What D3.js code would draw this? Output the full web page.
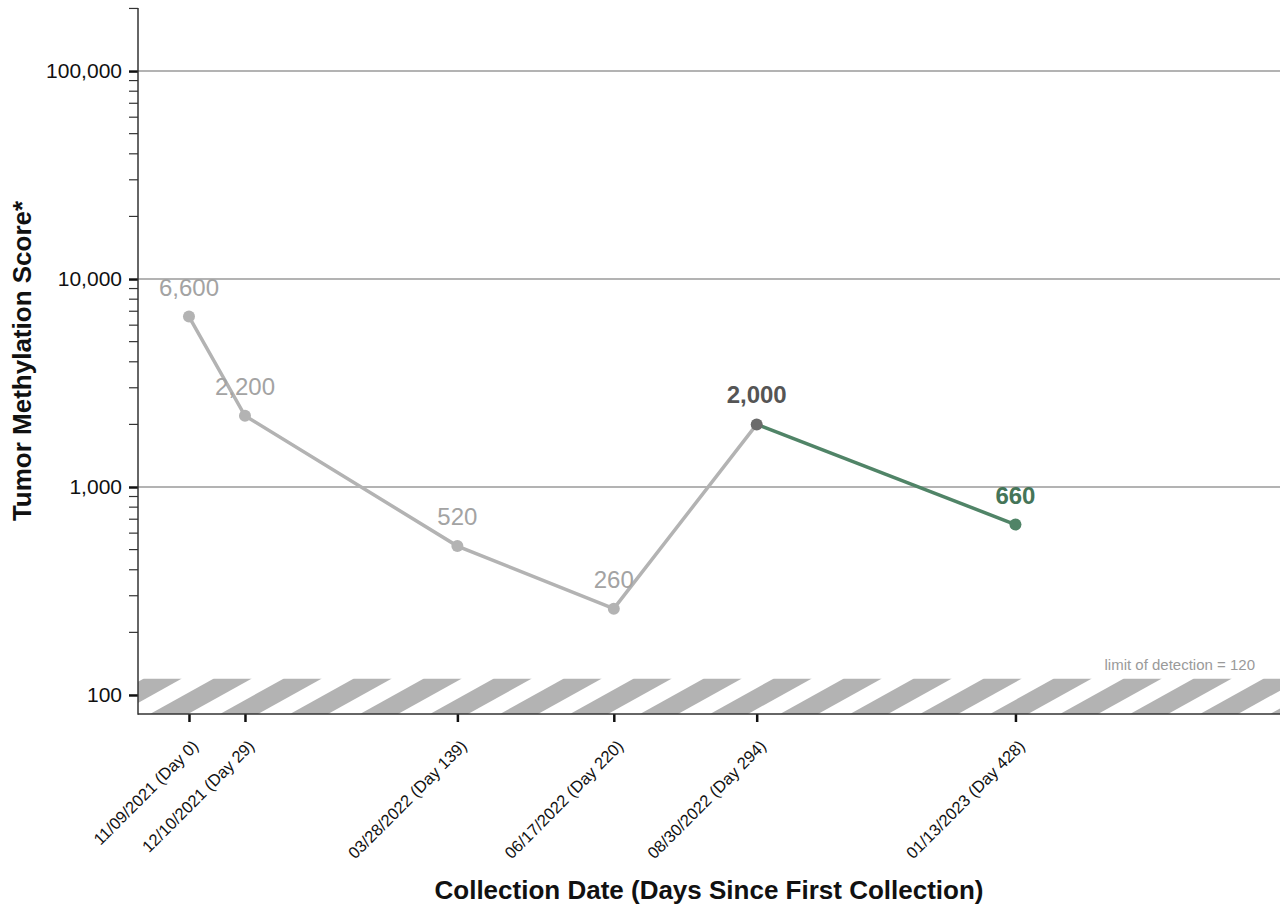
<!DOCTYPE html>
<html>
<head>
<meta charset="utf-8">
<script src="https://cdn.jsdelivr.net/npm/d3@7"></script>
<style>
  body { margin: 0; background: #fff; }
  svg { display: block; font-family: "Liberation Sans", Arial, Helvetica, sans-serif; }
</style>
</head>
<body>
<svg id="chart" width="1280" height="907"></svg>
<script>
// data
var days = [0, 29, 139, 220, 294, 428];
var dates = ["11/09/2021", "12/10/2021", "03/28/2022", "06/17/2022", "08/30/2022", "01/13/2023"];
var scores = [6600, 2200, 520, 260, 2000, 660];
var score_labels = ["6,600", "2,200", "520", "260", "2,000", "660"];
var y_ticks = [100, 1000, 10000, 100000];
var limit_of_detection = 120;

var width = 1280, height = 907;
var margin = { top: 8, right: 0, bottom: 193, left: 138 };
var fontFam = "Liberation Sans, Arial, sans-serif";

var svg = d3.select("#chart");

var x = d3.scaleLinear()
    .domain([-26.4, 565])
    .range([margin.left, width - margin.right]);

var y = d3.scaleLog()
    .domain([81, 201000])
    .range([height - margin.bottom, margin.top]);

var plotLeft = margin.left, plotRight = width - margin.right;
var plotTop = margin.top, plotBottom = height - margin.bottom;

// grid lines
svg.append("g").selectAll("line").data(y_ticks).enter().append("line")
    .attr("x1", plotLeft).attr("x2", plotRight)
    .attr("y1", function (d) { return y(d); })
    .attr("y2", function (d) { return y(d); })
    .attr("stroke", "#b3b3b3")
    .attr("stroke-width", 2);

// hatched band under the limit of detection
var bandTop = y(limit_of_detection);
svg.append("rect")
    .attr("x", plotLeft).attr("y", bandTop)
    .attr("width", plotRight - plotLeft).attr("height", plotBottom - bandTop)
    .attr("fill", "#fff");
svg.append("clipPath").attr("id", "bandclip")
    .append("rect")
    .attr("x", plotLeft).attr("y", bandTop)
    .attr("width", plotRight - plotLeft).attr("height", plotBottom - bandTop);

var stripes = d3.range(-2, 20);
var bandH = plotBottom - bandTop;
var shift = bandH * 1.8;
svg.append("g").attr("clip-path", "url(#bandclip)")
    .selectAll("polygon").data(stripes).enter().append("polygon")
    .attr("points", function (k) {
        var x0 = plotLeft + 12 + k * 70;
        return [[x0, plotBottom], [x0 + 38, plotBottom], [x0 + 38 + shift, bandTop], [x0 + shift, bandTop]].join(" ");
    })
    .attr("fill", "#b3b3b3");

svg.append("text")
    .attr("x", 1255).attr("y", 670)
    .attr("text-anchor", "end")
    .attr("font-size", 15)
    .attr("fill", "#9a9a9a")
    .text("limit of detection = " + limit_of_detection);

// axes
var yAxis = d3.axisLeft(y)
    .tickValues(y_ticks)
    .tickFormat(d3.format(","))
    .tickSize(9)
    .tickPadding(7);
var gy = svg.append("g").attr("transform", "translate(" + plotLeft + ",0)").call(yAxis);
gy.select(".domain").remove();
gy.selectAll(".tick line").attr("stroke", "#111").attr("stroke-width", 2.5);
gy.selectAll(".tick text").attr("font-size", 21).attr("fill", "#111").attr("font-family", fontFam);

// minor ticks
var minor = [];
[100, 1000, 10000, 100000].forEach(function (dec) {
    for (var m = 2; m <= 9; m++) {
        var v = dec * m;
        if (v <= y.domain()[1]) minor.push(v);
    }
});
svg.append("g").selectAll("line").data(minor).enter().append("line")
    .attr("x1", plotLeft - 9).attr("x2", plotLeft)
    .attr("y1", function (d) { return y(d); })
    .attr("y2", function (d) { return y(d); })
    .attr("stroke", "#333")
    .attr("stroke-width", 1.2);

var xAxis = d3.axisBottom(x)
    .tickValues(days)
    .tickFormat(function (d, i) { return dates[i] + " (Day " + d + ")"; })
    .tickSize(8);
var gx = svg.append("g").attr("transform", "translate(0," + plotBottom + ")").call(xAxis);
gx.select(".domain").remove();
gx.selectAll(".tick line").attr("stroke", "#111").attr("stroke-width", 2.5);
gx.selectAll(".tick text")
    .attr("font-size", 16.5)
    .attr("fill", "#111")
    .attr("font-family", fontFam)
    .attr("text-anchor", "end")
    .attr("dy", null)
    .attr("y", 0)
    .attr("transform", "translate(10,33) rotate(-45)");

// axis lines
svg.append("line").attr("x1", plotLeft).attr("x2", plotLeft)
    .attr("y1", plotTop).attr("y2", plotBottom + 0.75)
    .attr("stroke", "#333").attr("stroke-width", 1.5);
svg.append("line").attr("x1", plotLeft).attr("x2", plotRight)
    .attr("y1", plotBottom).attr("y2", plotBottom)
    .attr("stroke", "#333").attr("stroke-width", 1.5);

// lines
var points = days.map(function (d, i) { return { day: d, score: scores[i], label: score_labels[i] }; });
var line = d3.line()
    .x(function (d) { return x(d.day); })
    .y(function (d) { return y(d.score); });

svg.append("path")
    .attr("d", line(points.slice(0, 5)))
    .attr("stroke", "#b3b3b3").attr("stroke-width", 3.5)
    .attr("fill", "none");
svg.append("path")
    .attr("d", line(points.slice(4, 6)))
    .attr("stroke", "#508467").attr("stroke-width", 3.5)
    .attr("fill", "none");

function pointColor(i) {
    if (i == 4) return "#6b6b6b";
    if (i == 5) return "#508467";
    return "#b3b3b3";
}
function labelColor(i) {
    if (i == 4) return "#555555";
    if (i == 5) return "#457558";
    return "#a3a3a3";
}

svg.append("g").selectAll("circle").data(points).enter().append("circle")
    .attr("cx", function (d) { return x(d.day); })
    .attr("cy", function (d) { return y(d.score); })
    .attr("r", 6)
    .attr("fill", function (d, i) { return pointColor(i); });

svg.append("g").selectAll("text").data(points).enter().append("text")
    .attr("x", function (d) { return x(d.day); })
    .attr("y", function (d) { return y(d.score) - 21; })
    .attr("text-anchor", "middle")
    .attr("font-size", 24)
    .attr("font-weight", function (d, i) { return i >= 4 ? "bold" : "normal"; })
    .attr("fill", function (d, i) { return labelColor(i); })
    .text(function (d) { return d.label; });

// titles
svg.append("text")
    .attr("transform", "translate(31," + ((plotTop + plotBottom) / 2) + ") rotate(-90)")
    .attr("text-anchor", "middle")
    .attr("font-size", 26)
    .attr("font-weight", "bold")
    .attr("fill", "#111")
    .text("Tumor Methylation Score*");

svg.append("text")
    .attr("x", (plotLeft + plotRight) / 2)
    .attr("y", 899)
    .attr("text-anchor", "middle")
    .attr("font-size", 26)
    .attr("font-weight", "bold")
    .attr("fill", "#111")
    .text("Collection Date (Days Since First Collection)");
</script>
</body>
</html>
